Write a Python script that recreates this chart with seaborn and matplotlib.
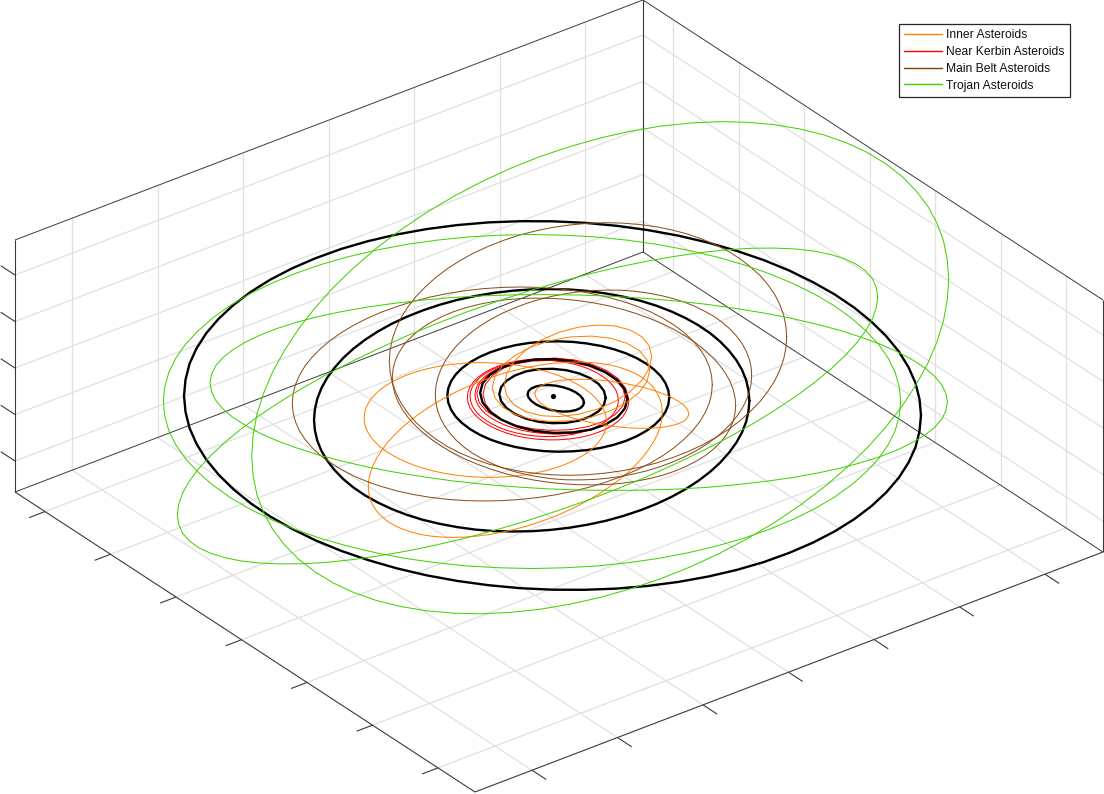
import numpy as np
import matplotlib
matplotlib.use("Agg")
import matplotlib.pyplot as plt
from matplotlib.lines import Line2D
import seaborn as sns

# Everything is in view coordinates (orthographic 3D view, no axis labels)

# box corners
floor_left = np.array([15, 492])
floor_back = np.array([643, 252])
floor_right = np.array([1103, 552])
floor_front = np.array([475, 792])
box_height = 252

# tick positions along the floor edges and the left wall
front_right_ticks = [532, 617.5, 703, 788.5, 874, 959.5, 1045]
front_left_ticks = [45, 110.5, 176, 241.5, 307, 372.5, 438]
wall_ticks = [275, 321.5, 368, 414.5, 461]

# planets
planet_1_x = [584.0, 583.0, 580.2, 575.7, 569.9, 563.1, 555.8, 548.5, 541.7, 535.9, 531.4, 528.6, 527.6, 528.6, 531.4, 535.9, 541.7, 548.5, 555.8, 563.1, 569.9, 575.7, 580.2, 583.0]
planet_1_y = [402.4, 405.6, 408.2, 410.1, 411.3, 411.6, 410.9, 409.4, 407.1, 404.3, 401, 397.6, 394.2, 391, 388.4, 386.5, 385.3, 385, 385.7, 387.2, 389.5, 392.3, 395.6, 399]
planet_2_x = [605.7, 603.9, 598.6, 590.1, 579.1, 566.3, 552.5, 538.7, 525.9, 514.9, 506.4, 501.1, 499.3, 501.1, 506.4, 514.9, 525.9, 538.7, 552.5, 566.3, 579.1, 590.1, 598.6, 603.9]
planet_2_y = [397.9, 404.8, 411.2, 416.5, 420.6, 422.8, 423.2, 421.8, 418.6, 413.9, 408.0, 401.2, 394.1, 387.2, 380.8, 375.5, 371.4, 369.2, 368.8, 370.2, 373.4, 378.1, 384.0, 390.8]
planet_3_x = [627.3, 624.8, 617.4, 605.7, 590.5, 572.8, 553.7, 534.6, 516.9, 501.7, 490.0, 482.6, 480.1, 482.6, 490.0, 501.7, 516.9, 534.6, 553.7, 572.8, 590.5, 605.7, 617.4, 624.8]
planet_3_y = [399.2, 408.7, 417.3, 424.4, 429.6, 432.4, 432.9, 430.8, 426.4, 419.8, 411.7, 402.5, 392.8, 383.3, 374.7, 367.6, 362.4, 359.6, 359.1, 361.2, 365.6, 372.2, 380.3, 389.5]
planet_4_x = [669.3, 668.3, 665.5, 660.9, 654.4, 646.3, 636.8, 625.9, 613.8, 600.8, 587.0, 572.8, 558.3, 543.8, 529.6, 515.8, 502.8, 490.7, 479.8, 470.3, 462.2, 455.7, 451.1, 448.3,
              447.3, 448.3, 451.1, 455.7, 462.2, 470.3, 479.8, 490.7, 502.8, 515.8, 529.6, 543.8, 558.3, 572.8, 587.0, 600.8, 613.8, 625.9, 636.8, 646.3, 654.4, 660.9, 665.5, 668.3]
planet_4_y = [397.5, 404.7, 411.8, 418.5, 425.0, 430.9, 436.2, 440.9, 444.8, 447.9, 450.1, 451.3, 451.7, 451.1, 449.5, 447.1, 443.8, 439.7, 434.8, 429.3, 423.2, 416.7, 409.8, 402.7,
              395.5, 388.3, 381.2, 374.5, 368.0, 362.1, 356.8, 352.1, 348.2, 345.1, 342.9, 341.7, 341.3, 341.9, 343.5, 345.9, 349.2, 353.3, 358.2, 363.7, 369.8, 376.3, 383.2, 390.3]
planet_5_x = [749.4, 748.5, 746.1, 742, 736.3, 728.9, 720.2, 710, 698.5, 685.6, 671.7, 656.7, 640.6, 623.8, 606.2, 588.1, 569.6, 550.6, 531.7, 512.8, 493.8, 475.3, 457.2, 439.6, 422.8, 406.7, 391.7, 377.8, 364.9, 353.4, 343.2, 334.5, 327.1, 321.4, 317.3, 314.9,
              314.0, 314.9, 317.3, 321.4, 327.1, 334.5, 343.2, 353.4, 364.9, 377.8, 391.7, 406.7, 422.8, 439.6, 457.2, 475.3, 493.8, 512.8, 531.7, 550.6, 569.6, 588.1, 606.2, 623.8, 640.6, 656.7, 671.7, 685.6, 698.5, 710, 720.2, 728.9, 736.3, 742, 746.1, 748.5]
planet_5_y = [400.8, 411.3, 421.9, 432.4, 442.7, 452.8, 462.6, 471.9, 480.7, 489.1, 496.8, 503.8, 510.2, 515.8, 520.7, 524.6, 527.7, 529.9, 531.2, 531.5, 531.1, 529.6, 527.1, 523.8, 519.8, 514.8, 509, 502.5, 495.3, 487.5, 479, 470, 460.5, 450.8, 440.7, 430.3,
              419.8, 409.3, 398.7, 388.2, 377.9, 367.8, 358, 348.7, 339.9, 331.5, 323.8, 316.8, 310.4, 304.8, 299.9, 296, 292.9, 290.7, 289.4, 289.1, 289.5, 291, 293.5, 296.8, 300.8, 305.8, 311.6, 318.1, 325.3, 333.1, 341.6, 350.6, 360.1, 369.8, 379.9, 390.3]
planet_6_x = [921.0, 919.5, 915.5, 908.5, 898.9, 886.4, 871.6, 854.3, 834.8, 813.0, 789.4, 764.0, 736.8, 708.4, 678.5, 647.9, 616.6, 584.6, 552.5, 520.4, 488.4, 457.1, 426.5, 396.6, 368.2, 341.0, 315.6, 292.0, 270.2, 250.7, 233.4, 218.6, 206.1, 196.5, 189.5, 185.5,
              184.0, 185.5, 189.5, 196.5, 206.1, 218.6, 233.4, 250.7, 270.2, 292.0, 315.6, 341.0, 368.2, 396.6, 426.5, 457.1, 488.4, 520.4, 552.5, 584.6, 616.6, 647.9, 678.5, 708.4, 736.8, 764.0, 789.4, 813.0, 834.8, 854.3, 871.6, 886.4, 898.9, 908.5, 915.5, 919.5]
planet_6_y = [415.2, 431.2, 447.2, 462.6, 477.6, 492.2, 506.0, 519.1, 531.3, 542.6, 552.8, 562.0, 569.9, 576.5, 581.9, 585.9, 588.6, 589.8, 589.7, 588.2, 585.2, 580.9, 575.3, 568.3, 560.1, 550.8, 540.4, 528.8, 516.5, 503.3, 489.2, 474.6, 459.4, 443.8, 428.0, 411.8,
              395.8, 379.8, 363.8, 348.4, 333.4, 318.8, 305.0, 291.9, 279.7, 268.4, 258.2, 249.0, 241.1, 234.5, 229.1, 225.1, 222.4, 221.2, 221.3, 222.8, 225.8, 230.1, 235.7, 242.7, 250.9, 260.2, 270.6, 282.2, 294.5, 307.7, 321.8, 336.4, 351.6, 367.2, 383.0, 399.2]
sun_x = [552.7]
sun_y = [396]

# inner asteroids
inner_1_x = [606.5, 606, 604.7, 602.4, 599.2, 595.1, 590.3, 584.6, 578.1, 571, 563.2, 554.9, 545.9, 536.6, 526.8, 516.7, 506.4, 495.8, 485.3, 474.8, 464.2, 453.9, 443.8, 434, 424.7, 415.7, 407.4, 399.6, 392.5, 386, 380.3, 375.5, 371.4, 368.2, 365.9, 364.6,
             364.1, 364.6, 365.9, 368.2, 371.4, 375.5, 380.3, 386, 392.5, 399.6, 407.4, 415.7, 424.7, 434, 443.8, 453.9, 464.2, 474.8, 485.3, 495.8, 506.4, 516.7, 526.8, 536.6, 545.9, 554.9, 563.2, 571, 578.1, 584.6, 590.3, 595.1, 599.2, 602.4, 604.7, 606]
inner_1_y = [422, 427, 432, 436.7, 441.5, 446, 450.4, 454.5, 458.3, 461.9, 465.2, 468, 470.6, 472.7, 474.6, 475.9, 476.7, 477.3, 477.3, 476.9, 476.1, 474.9, 473.2, 471.1, 468.6, 465.8, 462.6, 459.1, 455.3, 451.3, 447, 442.4, 437.7, 432.9, 428, 423,
             418, 413, 408, 403.3, 398.5, 394, 389.6, 385.5, 381.7, 378.1, 374.8, 372, 369.4, 367.3, 365.4, 364.1, 363.3, 362.7, 362.7, 363.1, 363.9, 365.1, 366.8, 368.9, 371.4, 374.2, 377.4, 380.9, 384.7, 388.7, 393, 397.6, 402.3, 407.1, 412, 417]
inner_2_x = [662.3, 661.7, 660.1, 657.3, 653.5, 648.5, 642.6, 635.7, 627.9, 619.2, 609.8, 599.7, 588.8, 577.5, 565.6, 553.4, 540.9, 528.1, 515.3, 502.5, 489.7, 477.2, 465, 453.1, 441.8, 430.9, 420.8, 411.4, 402.7, 394.9, 388, 382.1, 377.1, 373.3, 370.5, 368.9,
             368.3, 368.9, 370.5, 373.3, 377.1, 382.1, 388, 394.9, 402.7, 411.4, 420.8, 430.9, 441.8, 453.1, 465, 477.2, 489.7, 502.5, 515.3, 528.1, 540.9, 553.4, 565.6, 577.5, 588.8, 599.7, 609.8, 619.2, 627.9, 635.7, 642.6, 648.5, 653.5, 657.3, 660.1, 661.7]
inner_2_y = [412.6, 419.6, 427, 434.5, 442, 449.7, 457.4, 464.9, 472.4, 479.7, 486.7, 493.5, 499.9, 506, 511.7, 516.9, 521.5, 525.7, 529.2, 532.1, 534.5, 536.1, 537.1, 537.4, 537.1, 536.1, 534.5, 532.1, 529.2, 525.7, 521.6, 516.9, 511.8, 506.1, 500, 493.6,
             486.8, 479.8, 472.4, 464.9, 457.4, 449.7, 442, 434.5, 427, 419.7, 412.7, 405.9, 399.5, 393.4, 387.7, 382.5, 377.9, 373.7, 370.2, 367.3, 364.9, 363.3, 362.3, 362, 362.3, 363.3, 364.9, 367.3, 370.2, 373.7, 377.8, 382.5, 387.6, 393.3, 399.4, 405.8]
inner_3_x = [651.7, 649.2, 641.8, 630.1, 614.9, 597.1, 578, 558.9, 541.1, 525.9, 514.2, 506.8, 504.3, 506.8, 514.2, 525.9, 541.1, 558.9, 578, 597.1, 614.9, 630.1, 641.8, 649.2]
inner_3_y = [356.6, 368.4, 380.3, 391.6, 401.5, 409.2, 414.4, 416.6, 415.7, 411.6, 404.9, 395.8, 385, 373.2, 361.3, 350, 340.1, 332.4, 327.2, 325, 325.9, 330, 336.7, 345.8]
inner_4_x = [649.7, 647, 639.2, 626.6, 610.4, 591.4, 571, 550.6, 531.6, 515.4, 502.8, 495, 492.3, 495, 502.8, 515.4, 531.6, 550.6, 571, 591.4, 610.4, 626.6, 639.2, 647]
inner_4_y = [370.3, 381.4, 392.4, 402.4, 410.8, 417.1, 420.7, 421.5, 419.4, 414.4, 407.2, 397.8, 387.3, 376.2, 365.2, 355.2, 346.8, 340.5, 336.9, 336.1, 338.2, 343.2, 350.4, 359.8]
inner_5_x = [688.7, 688, 686.1, 682.9, 678.4, 672.8, 666.2, 658.6, 650.3, 641.3, 631.7, 621.9, 611.8, 601.7, 591.9, 582.3, 573.3, 565, 557.4, 550.8, 545.2, 540.7, 537.5, 535.6,
             534.9, 535.6, 537.5, 540.7, 545.2, 550.8, 557.4, 565, 573.3, 582.3, 591.9, 601.7, 611.8, 621.9, 631.7, 641.3, 650.3, 658.6, 666.2, 672.8, 678.4, 682.9, 686.1, 688]
inner_5_y = [413.8, 416.6, 419.3, 421.6, 423.7, 425.3, 426.7, 427.7, 428.2, 428.3, 428, 427.3, 426.2, 424.7, 422.8, 420.7, 418.2, 415.5, 412.5, 409.5, 406.3, 403.2, 399.9, 396.8,
             393.8, 391, 388.3, 386, 383.9, 382.3, 380.9, 379.9, 379.4, 379.3, 379.6, 380.3, 381.4, 382.9, 384.8, 386.9, 389.4, 392.1, 395.1, 398.1, 401.3, 404.4, 407.7, 410.8]

# near kerbin asteroids
near_1_x = [628.7, 628, 626, 622.6, 617.9, 612, 605.1, 597.1, 588.4, 578.9, 568.9, 558.6, 548, 537.4, 527.1, 517.1, 507.6, 498.9, 490.9, 484, 478.1, 473.4, 470, 468,
            467.3, 468, 470, 473.4, 478.1, 484, 490.9, 498.9, 507.6, 517.1, 527.1, 537.4, 548, 558.6, 568.9, 578.9, 588.4, 597.1, 605.1, 612, 617.9, 622.6, 626, 628]
near_1_y = [401.4, 406.7, 411.8, 416.7, 421.4, 425.7, 429.5, 432.8, 435.6, 437.6, 439, 439.8, 439.9, 439.2, 438, 436, 433.4, 430.2, 426.5, 422.3, 417.8, 412.9, 407.8, 402.5,
            397.2, 391.9, 386.8, 381.9, 377.2, 372.9, 369.1, 365.8, 363, 361, 359.6, 358.8, 358.7, 359.4, 360.6, 362.6, 365.2, 368.4, 372.1, 376.3, 380.8, 385.7, 390.8, 396.1]
near_2_x = [618.4, 617.7, 615.9, 612.8, 608.5, 603, 596.7, 589.4, 581.3, 572.6, 563.4, 553.9, 544.2, 534.5, 525, 515.8, 507.1, 499, 491.7, 485.4, 479.9, 475.6, 472.5, 470.7,
            470, 470.7, 472.5, 475.6, 479.9, 485.4, 491.7, 499, 507.1, 515.8, 525, 534.5, 544.2, 553.9, 563.4, 572.6, 581.3, 589.4, 596.7, 603, 608.5, 612.8, 615.9, 617.7]
near_2_y = [400.3, 405.3, 410.1, 414.7, 419.1, 423.2, 426.7, 429.8, 432.4, 434.4, 435.7, 436.5, 436.5, 435.9, 434.7, 432.8, 430.4, 427.4, 423.9, 420, 415.7, 411.1, 406.3, 401.3,
            396.3, 391.3, 386.5, 381.9, 377.5, 373.4, 369.9, 366.8, 364.2, 362.2, 360.9, 360.1, 360.1, 360.7, 361.9, 363.8, 366.2, 369.2, 372.7, 376.6, 380.9, 385.5, 390.3, 395.3]
near_3_x = [627, 626.3, 624.4, 621.2, 616.8, 611.3, 604.7, 597.3, 589, 580.1, 570.7, 561, 551, 541, 531.3, 521.9, 513, 504.7, 497.3, 490.7, 485.2, 480.8, 477.6, 475.7,
            475, 475.7, 477.6, 480.8, 485.2, 490.7, 497.3, 504.7, 513, 521.9, 531.3, 541, 551, 561, 570.7, 580.1, 589, 597.3, 604.7, 611.3, 616.8, 621.2, 624.4, 626.3]
near_3_y = [398.6, 403.5, 408.2, 412.7, 417, 420.9, 424.4, 427.4, 429.9, 431.9, 433.1, 433.9, 433.9, 433.3, 432.1, 430.3, 427.9, 425, 421.6, 417.7, 413.6, 409.1, 404.4, 399.5,
            394.6, 389.7, 385, 380.5, 376.2, 372.3, 368.8, 365.8, 363.3, 361.3, 360.1, 359.3, 359.3, 359.9, 361.1, 362.9, 365.3, 368.2, 371.6, 375.5, 379.6, 384.1, 388.8, 393.7]
near_4_x = [625.2, 622.7, 615.3, 603.5, 588.1, 570.2, 551, 531.8, 513.9, 498.5, 486.7, 479.3, 476.8, 479.3, 486.7, 498.5, 513.9, 531.8, 551, 570.2, 588.1, 603.5, 615.3, 622.7]
near_4_y = [397.2, 406.2, 414.5, 421.4, 426.6, 429.7, 430.4, 428.7, 424.8, 418.8, 411.3, 402.8, 393.6, 384.6, 376.3, 369.4, 364.2, 361.1, 360.4, 362.1, 366, 372, 379.5, 388]
near_5_x = [628, 625.5, 618.3, 606.8, 591.8, 574.3, 555.5, 536.7, 519.2, 504.2, 492.7, 485.5, 483, 485.5, 492.7, 504.2, 519.2, 536.7, 555.5, 574.3, 591.8, 606.8, 618.3, 625.5]
near_5_y = [398, 407.7, 416.7, 424.2, 429.8, 433.1, 433.9, 432.1, 427.8, 421.4, 413.3, 403.9, 394, 384.3, 375.3, 367.8, 362.2, 358.9, 358.1, 359.9, 364.2, 370.6, 378.7, 388.1]

# main belt asteroids
belt_1_x = [786.7, 785.9, 783.7, 779.9, 774.8, 768, 760.1, 750.7, 740.2, 728.5, 715.8, 702.1, 687.4, 672.1, 656, 639.5, 622.6, 605.3, 588, 570.7, 553.4, 536.5, 520, 503.9, 488.6, 473.9, 460.2, 447.5, 435.8, 425.3, 415.9, 408, 401.2, 396.1, 392.3, 390.1,
            389.3, 390.1, 392.3, 396.1, 401.2, 408, 415.9, 425.3, 435.8, 447.5, 460.2, 473.9, 488.6, 503.9, 520, 536.5, 553.4, 570.7, 588, 605.3, 622.6, 639.5, 656, 672.1, 687.4, 702.1, 715.8, 728.5, 740.2, 750.7, 760.1, 768, 774.8, 779.9, 783.7, 785.9]
belt_1_y = [336.9, 347.8, 359, 369.9, 380.6, 391.2, 401.4, 411.1, 420.5, 429.4, 437.5, 445.1, 451.8, 457.8, 463.1, 467.3, 470.7, 473.1, 474.7, 475.3, 474.9, 473.5, 471.3, 468, 464, 458.9, 453.1, 446.6, 439.1, 430.9, 422.4, 413.2, 403.4, 393.3, 382.8, 372,
            361.1, 350.2, 339, 328.1, 317.4, 306.8, 296.6, 286.9, 277.5, 268.6, 260.5, 252.9, 246.2, 240.2, 234.9, 230.7, 227.3, 224.9, 223.3, 222.7, 223.1, 224.5, 226.7, 230, 234, 239.1, 244.9, 251.4, 258.9, 267.1, 275.6, 284.8, 294.6, 304.7, 315.2, 326]
belt_2_x = [712.3, 711.5, 709.2, 705.2, 699.7, 692.6, 684.2, 674.3, 663.2, 650.8, 637.3, 622.8, 607.3, 591.1, 574.1, 556.7, 538.8, 520.6, 502.3, 484, 465.8, 447.9, 430.5, 413.5, 397.3, 381.8, 367.3, 353.8, 341.4, 330.3, 320.4, 312, 304.9, 299.4, 295.4, 293.1,
            292.3, 293.1, 295.4, 299.4, 304.9, 312, 320.4, 330.3, 341.4, 353.8, 367.3, 381.8, 397.3, 413.5, 430.5, 447.9, 465.8, 484, 502.3, 520.6, 538.8, 556.7, 574.1, 591.1, 607.3, 622.8, 637.3, 650.8, 663.2, 674.3, 684.2, 692.6, 699.7, 705.2, 709.2, 711.5]
belt_2_y = [384.7, 394, 403.3, 412.6, 421.8, 430.7, 439.2, 447.6, 455.4, 462.8, 469.7, 476, 481.6, 486.7, 491, 494.6, 497.4, 499.4, 500.6, 501, 500.6, 499.4, 497.4, 494.5, 491, 486.6, 481.7, 476, 469.6, 462.8, 455.4, 447.5, 439.2, 430.6, 421.7, 412.6,
            403.3, 394, 384.7, 375.4, 366.2, 357.3, 348.8, 340.4, 332.6, 325.2, 318.3, 312, 306.4, 301.3, 297, 293.4, 290.6, 288.6, 287.4, 287, 287.4, 288.6, 290.6, 293.5, 297, 301.4, 306.3, 312, 318.4, 325.2, 332.6, 340.5, 348.8, 357.4, 366.3, 375.4]
belt_3_x = [735.7, 735, 733.1, 729.9, 725.4, 719.6, 712.7, 704.6, 695.5, 685.4, 674.4, 662.6, 649.9, 636.6, 622.7, 608.5, 593.9, 578.9, 564, 549.1, 534.1, 519.5, 505.3, 491.4, 478.1, 465.4, 453.6, 442.6, 432.5, 423.4, 415.3, 408.4, 402.6, 398.1, 394.9, 393,
            392.3, 393, 394.9, 398.1, 402.6, 408.4, 415.3, 423.4, 432.5, 442.6, 453.6, 465.4, 478.1, 491.4, 505.3, 519.5, 534.1, 549.1, 564, 578.9, 593.9, 608.5, 622.7, 636.6, 649.9, 662.6, 674.4, 685.4, 695.5, 704.6, 712.7, 719.6, 725.4, 729.9, 733.1, 735]
belt_3_y = [405.5, 413.4, 421.4, 428.9, 436.3, 443.3, 449.8, 456, 461.6, 466.7, 471.3, 475.2, 478.5, 481.1, 483.2, 484.4, 484.9, 484.7, 483.9, 482.3, 480.1, 477.2, 473.6, 469.3, 464.5, 459.2, 453.3, 446.9, 440.2, 432.9, 425.6, 417.9, 409.9, 401.9, 393.8, 385.6,
            377.5, 369.6, 361.6, 354.1, 346.7, 339.7, 333.2, 327, 321.4, 316.3, 311.7, 307.8, 304.5, 301.9, 299.8, 298.6, 298.1, 298.3, 299.1, 300.7, 302.9, 305.8, 309.4, 313.7, 318.5, 323.8, 329.7, 336.1, 342.8, 350.1, 357.4, 365.1, 373.1, 381.1, 389.2, 397.4]
belt_4_x = [751.7, 751.1, 749.3, 746.3, 742.2, 736.8, 730.5, 723.1, 714.7, 705.3, 695.2, 684.3, 672.6, 660.4, 647.6, 634.5, 621, 607.3, 593.5, 579.7, 566, 552.5, 539.4, 526.6, 514.4, 502.7, 491.8, 481.7, 472.3, 463.9, 456.5, 450.2, 444.8, 440.7, 437.7, 435.9,
            435.3, 435.9, 437.7, 440.7, 444.8, 450.2, 456.5, 463.9, 472.3, 481.7, 491.8, 502.7, 514.4, 526.6, 539.4, 552.5, 566, 579.7, 593.5, 607.3, 621, 634.5, 647.6, 660.4, 672.6, 684.3, 695.2, 705.3, 714.7, 723.1, 730.5, 736.8, 742.2, 746.3, 749.3, 751.1]
belt_4_y = [375.5, 383.7, 392, 400.3, 408.4, 416.4, 424.1, 431.4, 438.5, 445.1, 451.3, 456.9, 462, 466.6, 470.6, 473.8, 476.4, 478.3, 479.5, 479.9, 479.8, 478.8, 477, 474.6, 471.6, 467.9, 463.5, 458.5, 453.1, 447, 440.5, 433.6, 426.2, 418.7, 410.8, 402.7,
            394.5, 386.3, 378, 369.7, 361.6, 353.6, 345.9, 338.6, 331.5, 324.9, 318.7, 313.1, 308, 303.4, 299.4, 296.2, 293.6, 291.7, 290.5, 290.1, 290.2, 291.2, 293, 295.4, 298.4, 302.1, 306.5, 311.5, 316.9, 323, 329.5, 336.4, 343.8, 351.3, 359.2, 367.3]

# trojan asteroids
trojan_1_x = [948.7, 947.3, 943.5, 936.9, 927.8, 915.9, 902, 885.6, 867.2, 846.6, 824.3, 800.2, 774.5, 747.6, 719.4, 690.5, 660.8, 630.5, 600.2, 569.9, 539.6, 509.9, 481, 452.8, 425.9, 400.2, 376.1, 353.8, 333.2, 314.8, 298.4, 284.5, 272.6, 263.5, 256.9, 253.1,
              251.7, 253.1, 256.9, 263.5, 272.6, 284.5, 298.4, 314.8, 333.2, 353.8, 376.1, 400.2, 425.9, 452.8, 481, 509.9, 539.6, 569.9, 600.2, 630.5, 660.8, 690.5, 719.4, 747.6, 774.5, 800.2, 824.3, 846.6, 867.2, 885.6, 902, 915.9, 927.8, 936.9, 943.5, 947.3]
trojan_1_y = [279.5, 299.9, 320.8, 342, 363.4, 385, 406.2, 427.3, 447.8, 467.7, 487, 505.2, 522.5, 538.5, 553.4, 566.8, 578.7, 588.8, 597.4, 604.2, 609.3, 612.4, 613.8, 613.1, 610.7, 606.4, 600.4, 592.5, 583, 571.7, 559, 544.8, 529.2, 512.4, 494.6, 475.5,
              455.9, 435.5, 414.6, 393.4, 372, 350.4, 329.2, 308.1, 287.6, 267.7, 248.4, 230.2, 212.9, 196.9, 182, 168.6, 156.7, 146.6, 138, 131.2, 126.1, 123, 121.6, 122.3, 124.7, 129, 135, 142.9, 152.4, 163.7, 176.4, 190.6, 206.2, 223, 240.8, 259.9]
trojan_2_x = [900.7, 899.2, 895.2, 888.2, 878.6, 866, 851.3, 834, 814.4, 792.7, 769.1, 743.6, 716.4, 688, 658.1, 627.5, 596.2, 564.1, 532, 499.9, 467.8, 436.5, 405.9, 376, 347.6, 320.4, 294.9, 271.3, 249.6, 230, 212.7, 198, 185.4, 175.8, 168.8, 164.8,
              163.3, 164.8, 168.8, 175.8, 185.4, 198, 212.7, 230, 249.6, 271.3, 294.9, 320.4, 347.6, 376, 405.9, 436.5, 467.8, 499.9, 532, 564.1, 596.2, 627.5, 658.1, 688, 716.4, 743.6, 769.1, 792.7, 814.4, 834, 851.3, 866, 878.6, 888.2, 895.2, 899.2]
trojan_2_y = [401.5, 416, 430.6, 444.8, 458.6, 472.1, 485, 497.4, 508.9, 519.6, 529.4, 538.3, 546.1, 552.8, 558.5, 562.8, 566, 567.8, 568.5, 567.8, 566, 562.8, 558.5, 552.8, 546.1, 538.3, 529.4, 519.6, 508.9, 497.4, 485, 472.1, 458.6, 444.8, 430.6, 416,
              401.5, 387, 372.4, 358.2, 344.4, 330.9, 318, 305.6, 294.1, 283.4, 273.6, 264.7, 256.9, 250.2, 244.5, 240.2, 237, 235.2, 234.5, 235.2, 237, 240.2, 244.5, 250.2, 256.9, 264.7, 273.6, 283.4, 294.1, 305.6, 318, 330.9, 344.4, 358.2, 372.4, 387]
trojan_3_x = [947.4, 945.9, 941.9, 934.9, 925.3, 912.7, 898, 880.7, 861.1, 839.4, 815.8, 790.3, 763.1, 734.7, 704.8, 674.2, 642.9, 610.8, 578.7, 546.6, 514.5, 483.2, 452.6, 422.7, 394.3, 367.1, 341.6, 318, 296.3, 276.7, 259.4, 244.7, 232.1, 222.5, 215.5, 211.5,
              210, 211.5, 215.5, 222.5, 232.1, 244.7, 259.4, 276.7, 296.3, 318, 341.6, 367.1, 394.3, 422.7, 452.6, 483.2, 514.5, 546.6, 578.7, 610.8, 642.9, 674.2, 704.8, 734.7, 763.1, 790.3, 815.8, 839.4, 861.1, 880.7, 898, 912.7, 925.3, 934.9, 941.9, 945.9]
trojan_3_y = [402.1, 410.6, 419, 427.1, 434.8, 442.4, 449.6, 456.4, 462.6, 468.4, 473.4, 477.9, 481.7, 484.9, 487.5, 489.2, 490.2, 490.4, 490, 488.8, 486.8, 484.2, 480.9, 476.7, 472.1, 466.9, 461, 454.8, 447.8, 440.6, 433, 425, 416.8, 408.5, 400, 391.4,
              382.9, 374.4, 366, 357.9, 350.2, 342.6, 335.4, 328.6, 322.4, 316.6, 311.6, 307.1, 303.3, 300.1, 297.5, 295.8, 294.8, 294.6, 295, 296.2, 298.2, 300.8, 304.1, 308.3, 312.9, 318.1, 324, 330.2, 337.2, 344.4, 352, 360, 368.2, 376.5, 385, 393.6]
trojan_4_x = [877.7, 876.3, 872.5, 865.8, 856.7, 844.8, 830.8, 814.3, 795.8, 775.1, 752.7, 728.5, 702.6, 675.6, 647.3, 618.2, 588.4, 558, 527.5, 497, 466.6, 436.8, 407.7, 379.4, 352.4, 326.5, 302.3, 279.9, 259.2, 240.7, 224.2, 210.2, 198.3, 189.2, 182.5, 178.7,
              177.3, 178.7, 182.5, 189.2, 198.3, 210.2, 224.2, 240.7, 259.2, 279.9, 302.3, 326.5, 352.4, 379.4, 407.7, 436.8, 466.6, 497, 527.5, 558, 588.4, 618.2, 647.3, 675.6, 702.6, 728.5, 752.7, 775.1, 795.8, 814.3, 830.8, 844.8, 856.7, 865.8, 872.5, 876.3]
trojan_4_y = [297.2, 307.6, 318.7, 330.6, 342.9, 355.9, 369.1, 382.7, 396.4, 410.1, 423.8, 437.4, 450.8, 463.8, 476.5, 488.5, 500, 510.6, 520.6, 529.6, 537.8, 544.9, 550.9, 555.8, 559.6, 562.4, 563.8, 563.9, 563, 560.9, 557.5, 553.1, 547.5, 540.8, 533.1, 524.4,
              514.8, 504.4, 493.3, 481.4, 469.1, 456.1, 442.9, 429.3, 415.6, 401.9, 388.2, 374.6, 361.2, 348.2, 335.5, 323.5, 312, 301.4, 291.4, 282.4, 274.2, 267.1, 261.1, 256.2, 252.4, 249.6, 248.2, 248.1, 249, 251.1, 254.5, 258.9, 264.5, 271.2, 278.9, 287.6]

sns.set_theme(style="white")
plt.rcParams["font.family"] = ["Liberation Sans", "DejaVu Sans"]

fig = plt.figure(figsize=(11.04, 7.94), dpi=100)
ax = fig.add_axes([0, 0, 1, 1])
ax.set_xlim(0, 1104)
ax.set_ylim(794, 0)
ax.axis("off")

GRID = "#e0e0e0"
BOX = "#3a3a3a"
up = np.array([0, -box_height])
left_dir = floor_back - floor_left      # runs along the back left floor edge
right_dir = floor_right - floor_back    # runs along the back right floor edge
tick_out = right_dir / np.hypot(*right_dir) * 17


def seg(a, b, color, width, zorder=1):
    ax.plot([a[0], b[0]], [a[1], b[1]], color=color, lw=width, zorder=zorder, solid_capstyle="butt")


# grid on floor and walls
for x in front_right_ticks:
    p = floor_front + left_dir * (x - floor_front[0]) / left_dir[0]
    q = p - right_dir
    seg(p, q, GRID, 0.9)
    seg(q, q + up, GRID, 0.9)
    seg(p, p + tick_out, BOX, 0.8)
for x in front_left_ticks:
    p = floor_left + right_dir * (x - floor_left[0]) / right_dir[0]
    q = p + left_dir
    seg(p, q, GRID, 0.9)
    seg(q, q + up, GRID, 0.9)
    seg(p, p - left_dir / np.hypot(*left_dir) * 17, BOX, 0.8)
for y in wall_ticks:
    p = np.array([floor_left[0], y])
    q = p + left_dir
    seg(p, q, GRID, 0.9)
    seg(q, q + right_dir, GRID, 0.9)
    seg(p, p - right_dir / np.hypot(*right_dir) * 17, BOX, 0.8)

# box outline
seg(floor_left, floor_back, BOX, 0.7, 2)
seg(floor_back, floor_right, BOX, 0.7, 2)
seg(floor_left, floor_front, BOX, 0.8, 2)
seg(floor_front, floor_right, BOX, 0.8, 2)
seg(floor_left, floor_left + up, BOX, 0.8, 2)
seg(floor_back, floor_back + up, BOX, 0.8, 2)
seg(floor_right, floor_right + up, BOX, 0.8, 2)
seg(floor_left + up, floor_back + up, BOX, 0.7, 2)
seg(floor_back + up, floor_right + up, BOX, 0.7, 2)


def draw_orbit(xs, ys, color, width, zorder=5):
    sns.lineplot(x=xs + xs[:1], y=ys + ys[:1], sort=False, estimator=None,
                 color=color, linewidth=width, ax=ax, zorder=zorder)


ORANGE = "#ff8000"
RED = "#ff0000"
BROWN = "#804000"
GREEN = "#40d000"
THIN = 0.72

near = [(near_1_x, near_1_y), (near_2_x, near_2_y), (near_3_x, near_3_y),
        (near_4_x, near_4_y), (near_5_x, near_5_y)]
for xs, ys in near:
    draw_orbit(xs, ys, RED, THIN, zorder=3)

for xs, ys in [(planet_1_x, planet_1_y), (planet_2_x, planet_2_y), (planet_3_x, planet_3_y),
               (planet_4_x, planet_4_y), (planet_5_x, planet_5_y), (planet_6_x, planet_6_y)]:
    draw_orbit(xs, ys, "black", 1.7, zorder=4)
sns.scatterplot(x=sun_x, y=sun_y, color="black", s=14, linewidth=0, ax=ax, zorder=4)

inner = [(inner_1_x, inner_1_y), (inner_2_x, inner_2_y), (inner_3_x, inner_3_y),
         (inner_4_x, inner_4_y), (inner_5_x, inner_5_y)]
belt = [(belt_1_x, belt_1_y), (belt_2_x, belt_2_y), (belt_3_x, belt_3_y), (belt_4_x, belt_4_y)]
trojan = [(trojan_1_x, trojan_1_y), (trojan_2_x, trojan_2_y), (trojan_3_x, trojan_3_y), (trojan_4_x, trojan_4_y)]

for group, color in [(inner, ORANGE), (belt, "#8a4c18"), (trojan, GREEN)]:
    for xs, ys in group:
        draw_orbit(xs, ys, color, THIN)

handles = [Line2D([], [], color=c, lw=1.0, label=n) for c, n in
           [(ORANGE, "Inner Asteroids"), (RED, "Near Kerbin Asteroids"),
            (BROWN, "Main Belt Asteroids"), (GREEN, "Trojan Asteroids")]]
leg = ax.legend(handles=handles, loc="upper left", bbox_to_anchor=(899 / 1104, 1 - 24 / 794),
                bbox_transform=fig.transFigure, borderaxespad=0, fontsize=8.7, frameon=True,
                fancybox=False, framealpha=1, edgecolor="#262626", handlelength=3.15,
                handletextpad=0.33, labelspacing=0.4, borderpad=0.42, labelcolor="#111111")
leg.get_frame().set_linewidth(0.9)
leg.set_zorder(10)

fig.savefig("out.png", dpi=100)
